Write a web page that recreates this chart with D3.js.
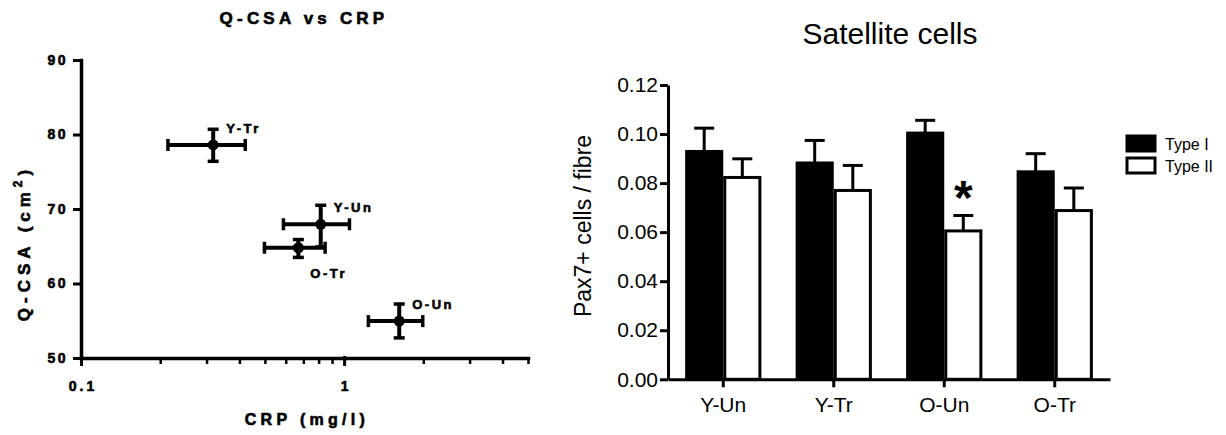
<!DOCTYPE html>
<html><head><meta charset="utf-8">
<script src="https://cdn.jsdelivr.net/npm/d3@7"></script>
<style>body{margin:0;background:#fff} svg{display:block} .heavy{stroke:#000;stroke-width:0.6px;fill:#000}</style>
</head><body><svg id="c" width="1226" height="435"></svg>
<script>
// ---------- Left chart: Q-CSA vs CRP ----------
const groups   = ["Y-Tr", "Y-Un", "O-Tr", "O-Un"];
const crpMean  = [0.318, 0.815, 0.670, 1.62];
const crpLow   = [0.214, 0.588, 0.498, 1.237];
const crpHigh  = [0.421, 1.048, 0.847, 1.99];
const csaMean  = [78.6, 67.95, 64.8, 54.95];
const csaLow   = [76.4, 64.9, 63.5, 52.7];
const csaHigh  = [80.7, 70.5, 65.9, 57.25];
const labelSide = ["above", "above", "below", "above"];
const csaTicks = [50, 60, 70, 80, 90];
const crpMajorTicks = [0.1, 1];
const crpMinorTicks = [0.2, 0.3, 0.4, 0.5, 0.6, 0.7, 0.8, 0.9, 2, 3, 4, 5];

// ---------- Right chart: Satellite cells ----------
const categories = ["Y-Un", "Y-Tr", "O-Un", "O-Tr"];
const fibreTypes = ["Type I", "Type II"];
const typeI      = [0.0929, 0.0882, 0.1004, 0.0846];
const typeIErr   = [0.0095, 0.0092, 0.0052, 0.0074];
const typeII     = [0.0823, 0.0770, 0.0605, 0.0688];
const typeIIErr  = [0.0076, 0.0102, 0.0063, 0.0092];
const typeIISig  = [false, false, true, false];
const pax7Ticks  = [0, 0.02, 0.04, 0.06, 0.08, 0.10, 0.12];

const svg = d3.select("#c");
const BOLD = "'Liberation Sans', Arial, sans-serif";

// ===== Left =====
const L = svg.append("g");
const x = d3.scaleLog().domain([0.1, 5]).range([81, 528]);
const y = d3.scaleLinear().domain([50, 90]).range([358, 60]);

const yAx = L.append("g").attr("transform", "translate(81,0)")
  .call(d3.axisLeft(y).tickValues(csaTicks).tickSize(8).tickPadding(5).tickSizeOuter(0));
yAx.select(".domain").attr("stroke-width", 3.5).attr("stroke-linecap", "square");
yAx.selectAll(".tick line").attr("stroke-width", 3);
yAx.selectAll(".tick text").attr("class", "heavy").attr("font-family", BOLD).attr("font-weight", "bold")
  .attr("font-size", 14).attr("letter-spacing", 2.5);

const xAx = L.append("g").attr("transform", "translate(0,358)")
  .call(d3.axisBottom(x).tickValues(crpMajorTicks).tickFormat(d3.format("")).tickSize(8).tickPadding(15).tickSizeOuter(0));
xAx.select(".domain").attr("stroke-width", 3.5).attr("stroke-linecap", "square");
xAx.selectAll(".tick line").attr("stroke-width", 3).attr("y1", -2);
xAx.selectAll(".tick text").attr("class", "heavy").attr("font-family", BOLD).attr("font-weight", "bold")
  .attr("font-size", 14).attr("letter-spacing", 3).attr("dx", 1.5);
const xMin = L.append("g").attr("transform", "translate(0,358)")
  .call(d3.axisBottom(x).tickValues(crpMinorTicks).tickFormat("").tickSize(6).tickSizeOuter(0));
xMin.select(".domain").remove();
xMin.selectAll(".tick line").attr("stroke-width", 2.5);

const pts = L.append("g").selectAll("g").data(groups).join("g");
pts.append("line").attr("x1", (d, i) => x(crpLow[i])).attr("x2", (d, i) => x(crpHigh[i]))
  .attr("y1", (d, i) => y(csaMean[i])).attr("y2", (d, i) => y(csaMean[i])).attr("stroke", "#000").attr("stroke-width", 4);
pts.append("line").attr("x1", (d, i) => x(crpMean[i])).attr("x2", (d, i) => x(crpMean[i]))
  .attr("y1", (d, i) => y(csaLow[i])).attr("y2", (d, i) => y(csaHigh[i])).attr("stroke", "#000").attr("stroke-width", 4);
[crpLow, crpHigh].forEach(arr => {
  pts.append("line").attr("x1", (d, i) => x(arr[i])).attr("x2", (d, i) => x(arr[i]))
    .attr("y1", (d, i) => y(csaMean[i]) - 6).attr("y2", (d, i) => y(csaMean[i]) + 6)
    .attr("stroke", "#000").attr("stroke-width", 3.5);
});
[csaLow, csaHigh].forEach(arr => {
  pts.append("line").attr("x1", (d, i) => x(crpMean[i]) - 5.5).attr("x2", (d, i) => x(crpMean[i]) + 5.5)
    .attr("y1", (d, i) => y(arr[i])).attr("y2", (d, i) => y(arr[i]))
    .attr("stroke", "#000").attr("stroke-width", 3.5);
});
pts.append("circle").attr("cx", (d, i) => x(crpMean[i])).attr("cy", (d, i) => y(csaMean[i])).attr("r", 5.5).attr("fill", "#000");
pts.append("text").attr("class", "heavy")
  .attr("x", (d, i) => x(crpMean[i]) + (labelSide[i] === "above" ? 13 : 12))
  .attr("y", (d, i) => y(csaMean[i]) + (labelSide[i] === "above" ? -12 : 30))
  .attr("font-family", BOLD).attr("font-weight", "bold").attr("font-size", 13)
  .attr("letter-spacing", 2.5).text(d => d);

L.append("text").attr("class", "heavy").attr("x", 304).attr("y", 24).attr("text-anchor", "middle")
  .attr("font-family", BOLD).attr("font-weight", "bold").attr("font-size", 17).attr("letter-spacing", 4.2)
  .text("Q-CSA vs CRP");
L.append("text").attr("class", "heavy").attr("x", 307).attr("y", 425).attr("text-anchor", "middle")
  .attr("font-family", BOLD).attr("font-weight", "bold").attr("font-size", 16).attr("letter-spacing", 4.3)
  .text("CRP (mg/l)");
const yl = L.append("text").attr("class", "heavy").attr("transform", "translate(30,243) rotate(-90)").attr("text-anchor", "middle")
  .attr("font-family", BOLD).attr("font-weight", "bold").attr("font-size", 17).attr("letter-spacing", 5);
yl.append("tspan").text("Q-CSA (cm");
yl.append("tspan").attr("dy", -8).attr("font-size", 12).text("2");
yl.append("tspan").attr("dy", 8).text(")");

// ===== Right =====
const R = svg.append("g");
const REG = "'Liberation Sans', Arial, sans-serif";
const xb = d3.scaleBand().domain(categories).range([668, 1110]).paddingInner(0.31).paddingOuter(0.155);
const xs = d3.scaleBand().domain(fibreTypes).range([0, xb.bandwidth()]);
const yb = d3.scaleLinear().domain([0, 0.12]).range([379.3, 85]);

const series = [
  {type: "Type I", vals: typeI, err: typeIErr, fill: "#000"},
  {type: "Type II", vals: typeII, err: typeIIErr, fill: "#fff"}
];
series.forEach(s => {
  const g = R.append("g");
  g.selectAll("line.err").data(categories).join("line")
    .attr("x1", d => xb(d) + xs(s.type) + xs.bandwidth() / 2)
    .attr("x2", d => xb(d) + xs(s.type) + xs.bandwidth() / 2)
    .attr("y1", (d, i) => yb(s.vals[i])).attr("y2", (d, i) => yb(s.vals[i] + s.err[i]))
    .attr("stroke", "#000").attr("stroke-width", 3);
  g.selectAll("line.cap").data(categories).join("line")
    .attr("x1", d => xb(d) + xs(s.type) + xs.bandwidth() / 2 - 10)
    .attr("x2", d => xb(d) + xs(s.type) + xs.bandwidth() / 2 + 10)
    .attr("y1", (d, i) => yb(s.vals[i] + s.err[i])).attr("y2", (d, i) => yb(s.vals[i] + s.err[i]))
    .attr("stroke", "#000").attr("stroke-width", 3);
  g.selectAll("rect").data(categories).join("rect")
    .attr("x", d => xb(d) + xs(s.type) + 1.5)
    .attr("width", xs.bandwidth() - 3)
    .attr("y", (d, i) => yb(s.vals[i]))
    .attr("height", (d, i) => yb(0) - yb(s.vals[i]))
    .attr("fill", s.fill).attr("stroke", "#000").attr("stroke-width", 3);
});
R.selectAll("text.sig").data(categories.filter((d, i) => typeIISig[i])).join("text")
  .attr("x", d => xb(d) + xs("Type II") + xs.bandwidth() / 2)
  .attr("y", d => yb(typeII[categories.indexOf(d)] + typeIIErr[categories.indexOf(d)]) - 1)
  .attr("text-anchor", "middle").attr("font-family", REG).attr("font-weight", "bold").attr("font-size", 48)
  .text("*");

const yAx2 = R.append("g").attr("transform", "translate(668,0)")
  .call(d3.axisLeft(yb).tickValues(pax7Ticks).tickFormat(d3.format(".2f")).tickSize(8).tickPadding(2).tickSizeOuter(0));
yAx2.select(".domain").attr("stroke-width", 3);
yAx2.selectAll(".tick line").attr("stroke-width", 3);
yAx2.selectAll(".tick text").attr("font-family", REG).attr("font-size", 21).attr("fill", "#000");
const xAx2 = R.append("g").attr("transform", "translate(0,379.3)")
  .call(d3.axisBottom(xb).tickSize(8).tickPadding(10).tickSizeOuter(0));
xAx2.select(".domain").attr("stroke-width", 3);
xAx2.selectAll(".tick line").attr("stroke-width", 3);
xAx2.selectAll(".tick text").attr("font-family", REG).attr("font-size", 21).attr("fill", "#000");

R.append("text").attr("x", 890).attr("y", 44).attr("text-anchor", "middle")
  .attr("font-family", REG).attr("font-size", 30).text("Satellite cells");
R.append("text").attr("transform", "translate(591,226) rotate(-90)").attr("text-anchor", "middle")
  .attr("font-family", REG).attr("font-size", 23).text("Pax7+ cells / fibre");

const leg = R.append("g").selectAll("g").data(series).join("g")
  .attr("transform", (d, i) => `translate(1127,${136 + i * 22})`);
leg.append("rect").attr("width", 28).attr("height", 15).attr("fill", d => d.fill)
  .attr("stroke", "#000").attr("stroke-width", 3);
leg.append("text").attr("x", 38).attr("y", 14).attr("font-family", REG).attr("font-size", 16).text(d => d.type);
</script></body></html>
